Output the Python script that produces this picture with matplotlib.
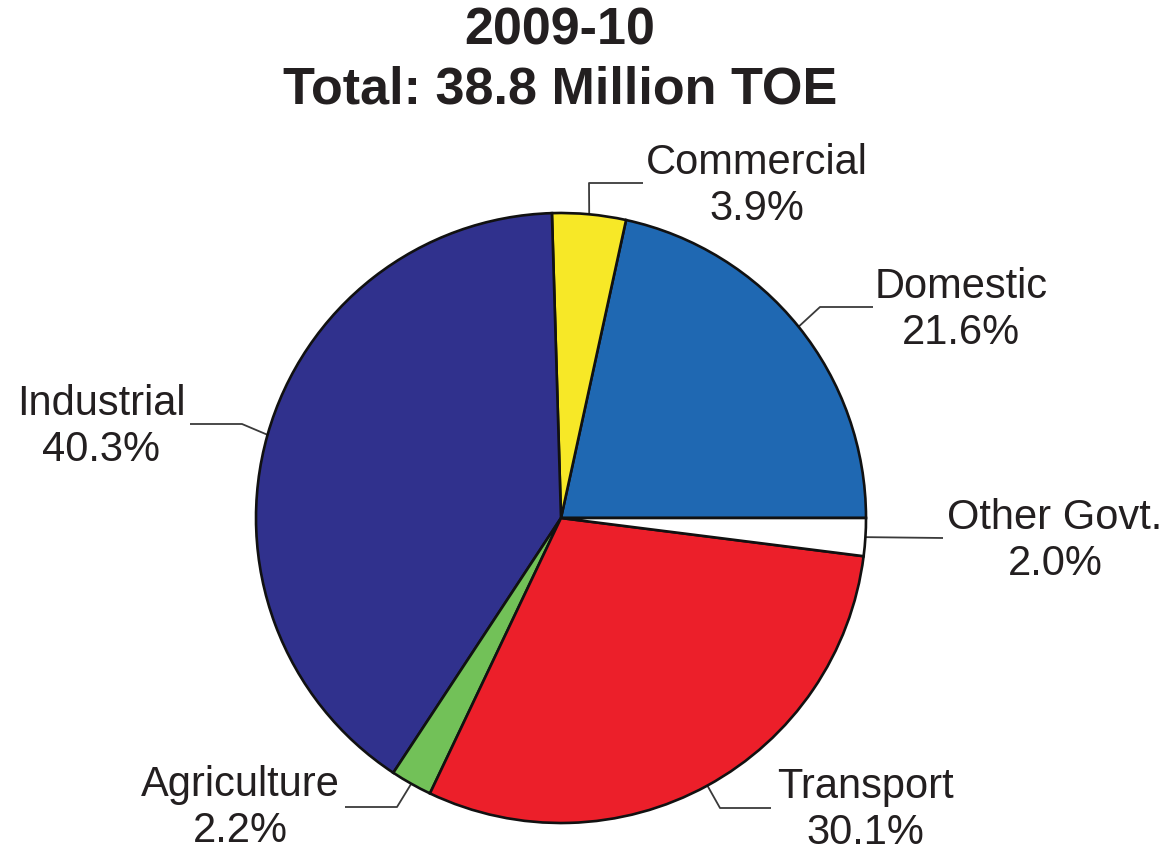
import numpy as np
import matplotlib
matplotlib.use("Agg")
import matplotlib.pyplot as plt

# ---- data ----
categories = ["Domestic", "Commercial", "Industrial", "Agriculture", "Transport", "Other Govt."]
shares = [21.6, 3.9, 40.3, 2.2, 30.1, 2.0]
colors = ["#1f68b2", "#f7e827", "#30318d", "#72c158", "#ec1f2a", "#ffffff"]
title_lines = ["2009-10", "Total: 38.8 Million TOE"]

# ---- layout (pixel coordinates, y downward) ----
W, H = 1169, 852
CX, CY, R = 561, 518, 305
# label block centers
label_pos = {
    "Domestic": (961, 310),
    "Commercial": (757, 186),
    "Industrial": (101, 427),
    "Agriculture": (240, 808),
    "Transport": (865, 810),
    "Other Govt.": (1055, 541),
}
# leader-line waypoints after the wedge edge point
leader_pts = {
    "Domestic": [(820, 307), (873, 307)],
    "Commercial": [(589, 183), (643, 183)],
    "Industrial": [(242, 424), (190, 424)],
    "Agriculture": [(397, 807), (345, 807)],
    "Transport": [(720, 808), (771, 808)],
    "Other Govt.": [(943, 538)],
}

def fy(y):
    return H - y

plt.rcParams['font.family'] = ['Liberation Sans', 'DejaVu Sans']
fig = plt.figure(figsize=(W / 100, H / 100), dpi=100)
ax = fig.add_axes([0, 0, 1, 1])

wedges, _ = ax.pie(shares, colors=colors, startangle=0, counterclock=True,
                   center=(CX, fy(CY)), radius=R,
                   wedgeprops=dict(edgecolor="#111111", linewidth=1.9))
ax.set_xlim(0, W)
ax.set_ylim(0, H)
ax.set_aspect('equal')
ax.axis('off')

txt_color = "#231f20"
for w, cat, val in zip(wedges, categories, shares):
    ang = np.deg2rad((w.theta1 + w.theta2) / 2)
    x0 = CX + R * np.cos(ang)
    y0 = fy(CY) + R * np.sin(ang)
    xs = [x0] + [p[0] for p in leader_pts[cat]]
    ys = [y0] + [fy(p[1]) for p in leader_pts[cat]]
    ax.plot(xs, ys, color="#3a3a3a", lw=1.3, solid_capstyle='butt', zorder=0)
    lx, ly = label_pos[cat]
    ax.text(lx, fy(ly), f"{cat}\n{val:.1f}%", ha='center', va='center',
            multialignment='center', fontsize=30, color=txt_color, linespacing=1.2)

ax.text(560, fy(31), title_lines[0], ha='center', va='center',
        fontsize=37.5, fontweight='bold', color=txt_color)
ax.text(560, fy(90), title_lines[1], ha='center', va='center',
        fontsize=37.5, fontweight='bold', color=txt_color)

fig.savefig("out.png", dpi=100)
